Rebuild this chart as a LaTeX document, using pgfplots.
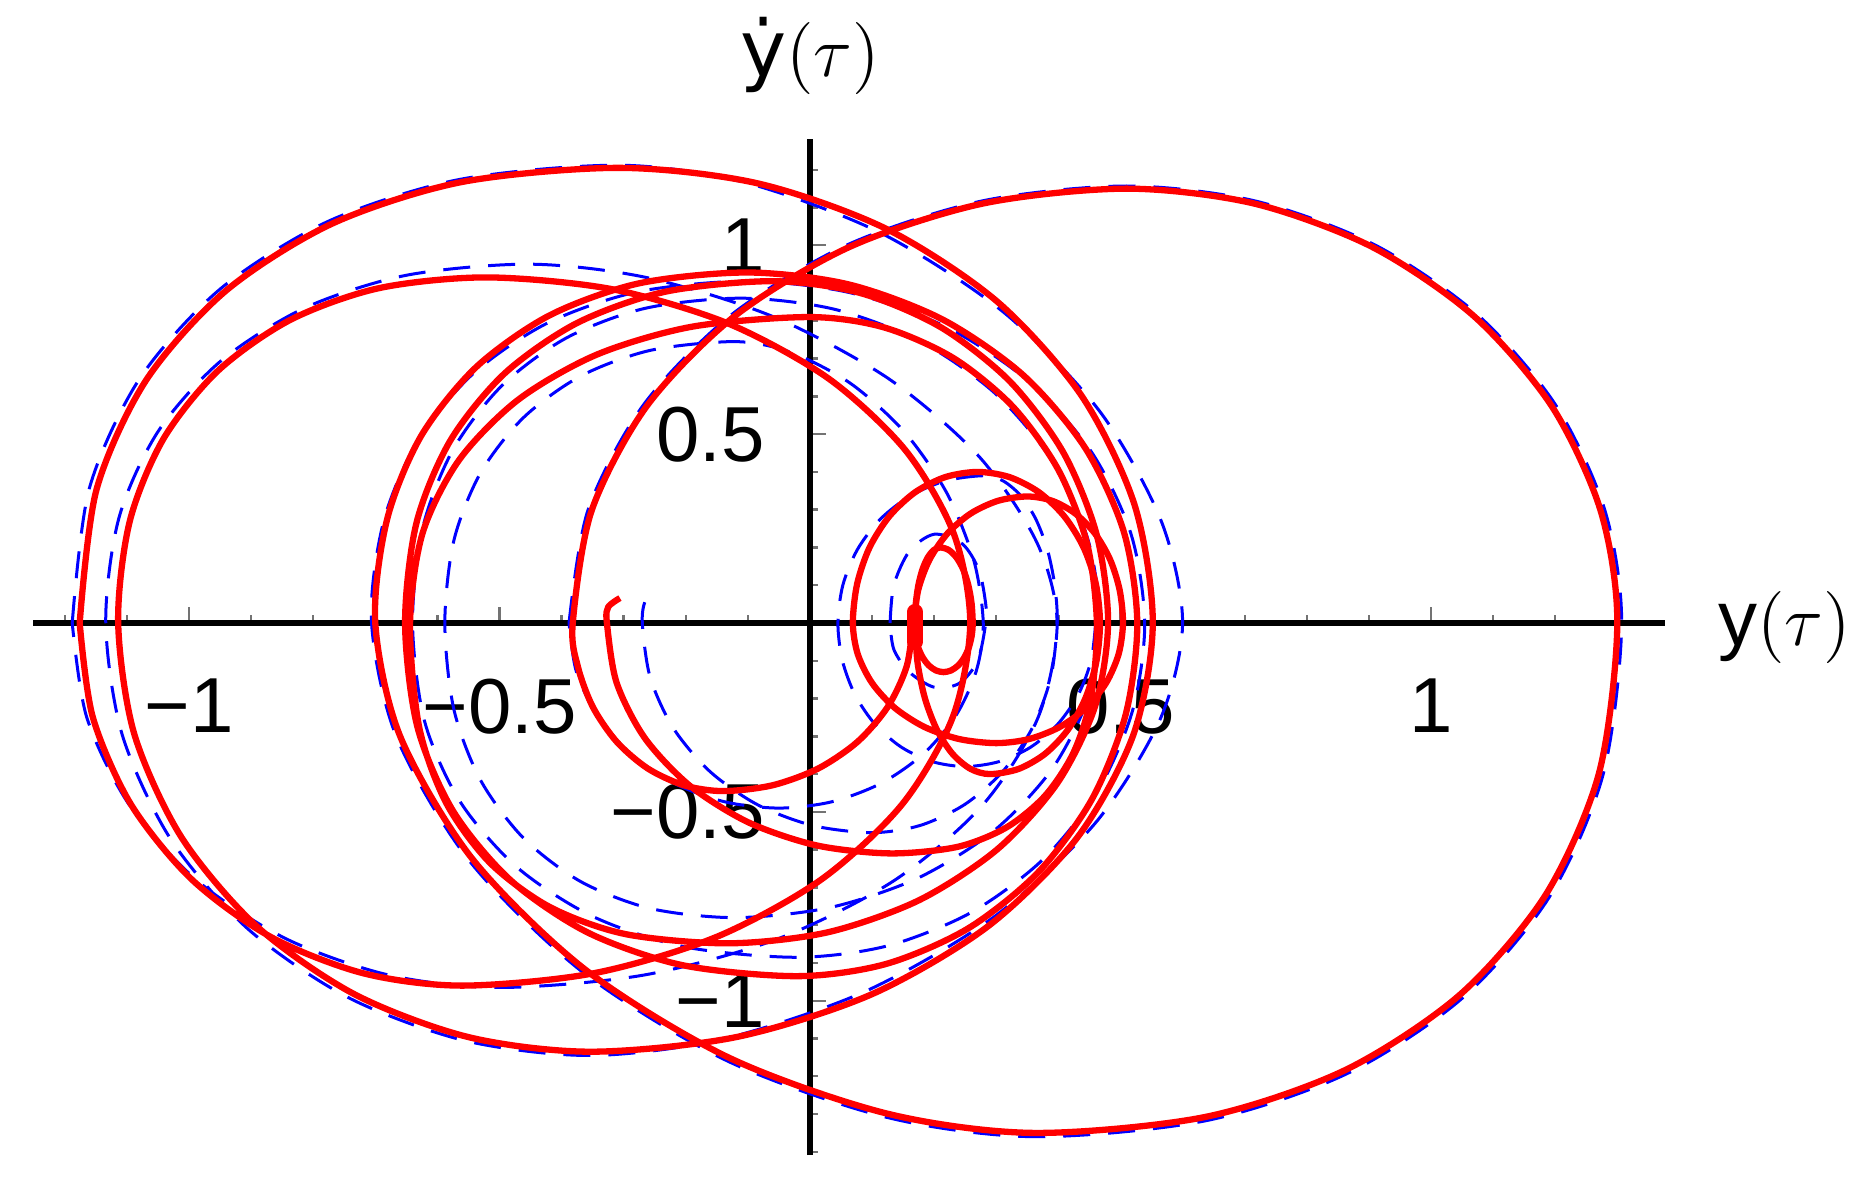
\documentclass[border=0pt]{standalone}
\usepackage{fontspec}
\setmainfont{Liberation Sans}
\newfontfamily\dejavu{DejaVu Sans}
\usepackage{pgfplots}
\pgfplotsset{compat=1.18}
\begin{document}
\fontsize{13}{15}\selectfont
\begin{tikzpicture}
\begin{axis}[
  x=103.5pt, y=62.95pt,
  xmin=-1.251, xmax=1.377, ymin=-1.4085, ymax=1.2814,
  axis lines=middle,
  axis line style={black, line width=1pt, -},
  clip=false,
  xtick={-1,-0.5,0.5,1},
  xticklabels={{−1},{−0.5},{0.5},{1}},
  ytick={-1,-0.5,0.5,1},
  yticklabels={{−1},{−0.5},{0.5},{1}},
  minor xtick={-1.2,-1.1,-0.9,-0.8,-0.7,-0.6,-0.4,-0.3,-0.2,-0.1,0.1,0.2,0.3,0.4,0.6,0.7,0.8,0.9,1.1,1.2,1.3},
  minor ytick={-1.4,-1.3,-1.2,-1.1,-0.9,-0.8,-0.7,-0.6,-0.4,-0.3,-0.2,-0.1,0.1,0.2,0.3,0.4,0.6,0.7,0.8,0.9,1.1,1.2},
  tick align=inside,
  major tick length=2.6pt, minor tick length=1.4pt,
  every tick/.style={black!55, line width=0.4pt},
  xticklabel style={yshift=-4.8pt, font=\fontsize{13}{15}\selectfont},
  yticklabel style={xshift=-3pt, font=\fontsize{13}{15}\selectfont},
  blueline/.style={color={rgb,255:red,0;green,0;blue,255}, line width=0.5pt, dash pattern=on 4.5pt off 3pt, smooth},
  redline/.style={color={rgb,255:red,255;green,0;blue,0}, line width=1.05pt, smooth},
]
% ---------- blue dashed ----------
\addplot[blueline] coordinates {
(-0.388,0) (-0.3574,0.2994) (-0.2677,0.5785) (-0.125,0.8181) (0.061,1.002) (0.2776,1.1176) (0.51,1.157) (0.7163,1.1176) (0.9085,1.002) (1.0736,0.8181) (1.2002,0.5785) (1.2798,0.2994) (1.307,0)
(1.2776,-0.3981) (1.191,-0.7243) (1.051,-0.9924) (0.8644,-1.1934) (0.6372,-1.3178) (0.36,-1.36) (0.1225,-1.3083) (-0.1336,-1.1591) (-0.3653,-0.9253) (-0.5485,-0.6297) (-0.6655,-0.303) (-0.706,0)
(-0.6872,0.2649) (-0.6318,0.482) (-0.5422,0.6604) (-0.4228,0.7941) (-0.2774,0.8769) (-0.10,0.905) (0.0654,0.8742) (0.2195,0.7837) (0.3518,0.6399) (0.4534,0.4525) (0.5172,0.2342) (0.539,0)
(0.5199,-0.229) (0.4641,-0.4425) (0.3753,-0.6258) (0.2595,-0.7664) (0.1247,-0.8548) (-0.02,-0.885) (-0.2015,-0.8576) (-0.3502,-0.7766) (-0.4724,-0.6458) (-0.564,-0.4714) (-0.6208,-0.259) (-0.64,0)
(-0.6236,0.2517) (-0.5751,0.458) (-0.4967,0.6275) (-0.3923,0.7547) (-0.2651,0.8333) (-0.11,0.86) (0.0393,0.8307) (0.1785,0.7448) (0.298,0.6081) (0.3897,0.43) (0.4473,0.2226) (0.467,0)
(0.447,-0.2019) (0.3883,-0.39) (0.2951,-0.5515) (0.1735,-0.6755) (0.0319,-0.7534) (-0.12,-0.78) (-0.257,-0.7558) (-0.3693,-0.6845) (-0.4615,-0.5692) (-0.5307,-0.4154) (-0.5735,-0.2283) (-0.588,0)
(-0.5735,0.2181) (-0.5307,0.3968) (-0.4615,0.5436) (-0.3693,0.6537) (-0.257,0.7219) (-0.12,0.745) (-0.0311,0.7167) (0.0647,0.635) (0.1515,0.5069) (0.2201,0.3449) (0.2638,0.166) (0.279,0)
(0.2678,-0.1268) (0.2349,-0.245) (0.1826,-0.3465) (0.1145,-0.4243) (0.0351,-0.4733) (-0.05,-0.49) (-0.1375,-0.4733) (-0.219,-0.4243) (-0.289,-0.3465) (-0.3427,-0.245) (-0.3765,-0.1268) (-0.388,0)
};
\addplot[blueline] coordinates {
(-1.188,0) (-1.1607,0.3548) (-1.08,0.6455) (-0.9496,0.8844) (-0.7758,1.0635) (-0.5642,1.1744) (-0.306,1.212) (-0.1041,1.166) (0.1135,1.033) (0.3104,0.8246) (0.4662,0.5612) (0.5656,0.27) (0.60,0)
(0.5638,-0.2551) (0.4592,-0.5301) (0.2954,-0.7791) (0.0882,-0.9759) (-0.1407,-1.1015) (-0.353,-1.145) (-0.5551,-1.106) (-0.7435,-0.9916) (-0.9053,-0.8096) (-1.0293,-0.5725) (-1.1074,-0.2963) (-1.134,0)
(-1.1128,0.2781) (-1.0502,0.506) (-0.9491,0.6932) (-0.8143,0.8336) (-0.6502,0.9206) (-0.45,0.95) (-0.2611,0.9139) (-0.0574,0.8097) (0.127,0.6464) (0.2727,0.4399) (0.3658,0.2117) (0.398,0)
(0.3674,-0.2497) (0.2777,-0.4825) (0.135,-0.6824) (-0.051,-0.8357) (-0.2676,-0.9321) (-0.5,-0.965) (-0.6781,-0.9321) (-0.844,-0.8357) (-0.9865,-0.6824) (-1.0958,-0.4825) (-1.1646,-0.2497) (-1.188,0)
};
\addplot[blueline] coordinates {
(0.46,0) (0.4528,-0.0983) (0.4319,-0.19) (0.3985,-0.2687) (0.355,-0.3291) (0.3043,-0.367) (0.25,-0.38) (0.1969,-0.367) (0.1475,-0.3291) (0.105,-0.2687) (0.0725,-0.19) (0.052,-0.0983) (0.045,0)
(0.053,0.1009) (0.0765,0.195) (0.1138,0.2758) (0.1625,0.3377) (0.2192,0.3767) (0.28,0.39) (0.3105,0.3767) (0.339,0.3377) (0.3634,0.2758) (0.3822,0.195) (0.394,0.1009) (0.398,0)
(0.3878,-0.1436) (0.3581,-0.2775) (0.3107,-0.3924) (0.249,-0.4806) (0.1771,-0.5361) (0.1,-0.555) (0.0042,-0.5361) (-0.085,-0.4806) (-0.1616,-0.3924) (-0.2204,-0.2775) (-0.2574,-0.1436) (-0.27,0) (-0.265,0.06) (-0.25,0.08)
};
\addplot[blueline] coordinates {
(0.129,0) (0.135,0.1) (0.16,0.19) (0.2,0.235) (0.245,0.21) (0.272,0.14) (0.283,0.05) (0.283,0) (0.27,-0.1) (0.24,-0.16) (0.2,-0.17) (0.16,-0.13) (0.135,-0.07) (0.129,0)
};
% ---------- red solid ----------
\addplot[redline] coordinates {
(0.166,0) (0.1556,-0.1152) (0.125,-0.2225) (0.0764,-0.3147) (0.013,-0.3854) (-0.0608,-0.4298) (-0.14,-0.445) (-0.2026,-0.4298) (-0.261,-0.3854) (-0.3111,-0.3147) (-0.3496,-0.2225) (-0.3738,-0.1152) (-0.382,0)
(-0.3516,0.2976) (-0.2625,0.575) (-0.1207,0.8132) (0.064,0.9959) (0.2791,1.1108) (0.51,1.15) (0.7145,1.1108) (0.905,0.9959) (1.0686,0.8132) (1.1941,0.575) (1.2731,0.2976) (1.30,0)
(1.2709,-0.3951) (1.1849,-0.719) (1.0459,-0.9851) (0.8606,-1.1846) (0.6351,-1.3082) (0.36,-1.35) (0.1238,-1.2987) (-0.1308,-1.1506) (-0.3612,-0.9185) (-0.5434,-0.625) (-0.6597,-0.3008) (-0.70,0)
(-0.6814,0.2716) (-0.6265,0.4943) (-0.5378,0.6772) (-0.4196,0.8143) (-0.2756,0.8992) (-0.10,0.928) (0.0623,0.8964) (0.2135,0.8036) (0.3434,0.6562) (0.443,0.464) (0.5056,0.2402) (0.527,0)
(0.5084,-0.242) (0.4537,-0.4675) (0.3668,-0.6611) (0.2535,-0.8097) (0.1216,-0.9031) (-0.02,-0.935) (-0.205,-0.906) (-0.3566,-0.8205) (-0.4812,-0.6823) (-0.5746,-0.498) (-0.6324,-0.2737) (-0.652,0)
(-0.6337,0.2649) (-0.5795,0.482) (-0.492,0.6604) (-0.3753,0.7941) (-0.2333,0.877) (-0.06,0.905) (0.0798,0.8742) (0.21,0.7837) (0.3218,0.6399) (0.4076,0.4525) (0.4616,0.2342) (0.48,0)
(0.4592,-0.2195) (0.3983,-0.424) (0.3013,-0.5996) (0.175,-0.7344) (0.0279,-0.8191) (-0.13,-0.848) (-0.2967,-0.8238) (-0.4186,-0.7522) (-0.5151,-0.6353) (-0.5859,-0.4761) (-0.6294,-0.275) (-0.644,0)
(-0.624,0.2371) (-0.5651,0.4314) (-0.4699,0.5911) (-0.343,0.7108) (-0.1885,0.7849) (0,0.81) (0.1196,0.7824) (0.231,0.7015) (0.3267,0.5728) (0.4001,0.405) (0.4463,0.2096) (0.462,0)
(0.4525,-0.1978) (0.4245,-0.3425) (0.3787,-0.457) (0.3164,-0.5411) (0.2377,-0.5926) (0.13,-0.61) (0.0117,-0.5892) (-0.0985,-0.5283) (-0.1931,-0.4313) (-0.2658,-0.305) (-0.3114,-0.1579) (-0.327,0) (-0.325,0.042) (-0.306,0.066)
};
\addplot[redline] coordinates {
(-1.176,0) (-1.149,0.3527) (-1.0694,0.6418) (-0.9408,0.8793) (-0.7694,1.0574) (-0.5606,1.1676) (-0.306,1.205) (-0.084,1.1639) (0.123,1.0435) (0.3007,0.8521) (0.437,0.6025) (0.5228,0.3119) (0.552,0)
(0.5212,-0.2937) (0.4307,-0.5675) (0.2869,-0.8026) (0.0995,-0.9829) (-0.1188,-1.0963) (-0.353,-1.135) (-0.55,-1.0963) (-0.7335,-0.9829) (-0.8911,-0.8026) (-1.012,-0.5675) (-1.0881,-0.2937) (-1.114,0)
(-1.0956,0.2678) (-1.0412,0.4873) (-0.9534,0.6677) (-0.8364,0.8029) (-0.6939,0.8866) (-0.52,0.915) (-0.3187,0.8838) (-0.131,0.7924) (0.0301,0.647) (0.1537,0.4575) (0.2315,0.2368) (0.258,0)
(0.2301,-0.2484) (0.1484,-0.48) (0.0184,-0.6788) (-0.151,-0.8314) (-0.3483,-0.9273) (-0.56,-0.96) (-0.7194,-0.9273) (-0.868,-0.8314) (-0.9956,-0.6788) (-1.0935,-0.48) (-1.155,-0.2484) (-1.176,0)
};
\addplot[redline] coordinates {
(0.169,0) (0.1704,0.0518) (0.1745,0.1) (0.181,0.1414) (0.1895,0.1732) (0.1994,0.1932) (0.21,0.2) (0.2235,0.1932) (0.236,0.1732) (0.2468,0.1414) (0.255,0.1) (0.2602,0.0518) (0.262,0)
(0.2604,-0.0336) (0.2557,-0.065) (0.2482,-0.0919) (0.2385,-0.1126) (0.2272,-0.1256) (0.215,-0.13) (0.2028,-0.1256) (0.1915,-0.1126) (0.1818,-0.0919) (0.1743,-0.065) (0.1696,-0.0336) (0.168,0)
(0.1742,0.0867) (0.1924,0.1675) (0.2213,0.2369) (0.259,0.2901) (0.3029,0.3236) (0.35,0.335) (0.3899,0.3236) (0.427,0.2901) (0.4589,0.2369) (0.4834,0.1675) (0.4987,0.0867) (0.504,0)
(0.497,-0.0823) (0.4767,-0.159) (0.4443,-0.2249) (0.402,-0.2754) (0.3528,-0.3072) (0.30,-0.318) (0.2402,-0.3072) (0.1845,-0.2754) (0.1367,-0.2249) (0.1,-0.159) (0.0769,-0.0823) (0.069,0)
(0.0759,0.1035) (0.0959,0.2) (0.1279,0.2828) (0.1695,0.3464) (0.218,0.3864) (0.27,0.4) (0.321,0.3864) (0.3685,0.3464) (0.4093,0.2828) (0.4406,0.2) (0.4603,0.1035) (0.467,0)
(0.461,-0.1035) (0.4433,-0.2) (0.4152,-0.2828) (0.3785,-0.3464) (0.3358,-0.3864) (0.29,-0.4) (0.2587,-0.3864) (0.2295,-0.3464) (0.2044,-0.2828) (0.1852,-0.2) (0.1731,-0.1035) (0.169,0)
};
\addplot[color={rgb,255:red,255;green,0;blue,0}, line width=2.6pt, line cap=round] coordinates {(0.169,-0.05) (0.169,0.03)};
% ---------- labels ----------
\node[anchor=base west, inner sep=0pt] at (axis cs:1.377,0) [xshift=8.7pt, yshift=-3.8pt] {y$(\tau)$};
\node[anchor=base, inner sep=0pt] at (axis cs:0,1.2814) [yshift=10.5pt] {{\dejavu ẏ}$(\tau)$};
\coordinate (BL) at (axis cs:-1.3043,-1.4906);
\coordinate (TR) at (axis cs:1.6779,1.6495);
\end{axis}
\pgfresetboundingbox
\useasboundingbox (BL) rectangle (TR);
\end{tikzpicture}
\end{document}
